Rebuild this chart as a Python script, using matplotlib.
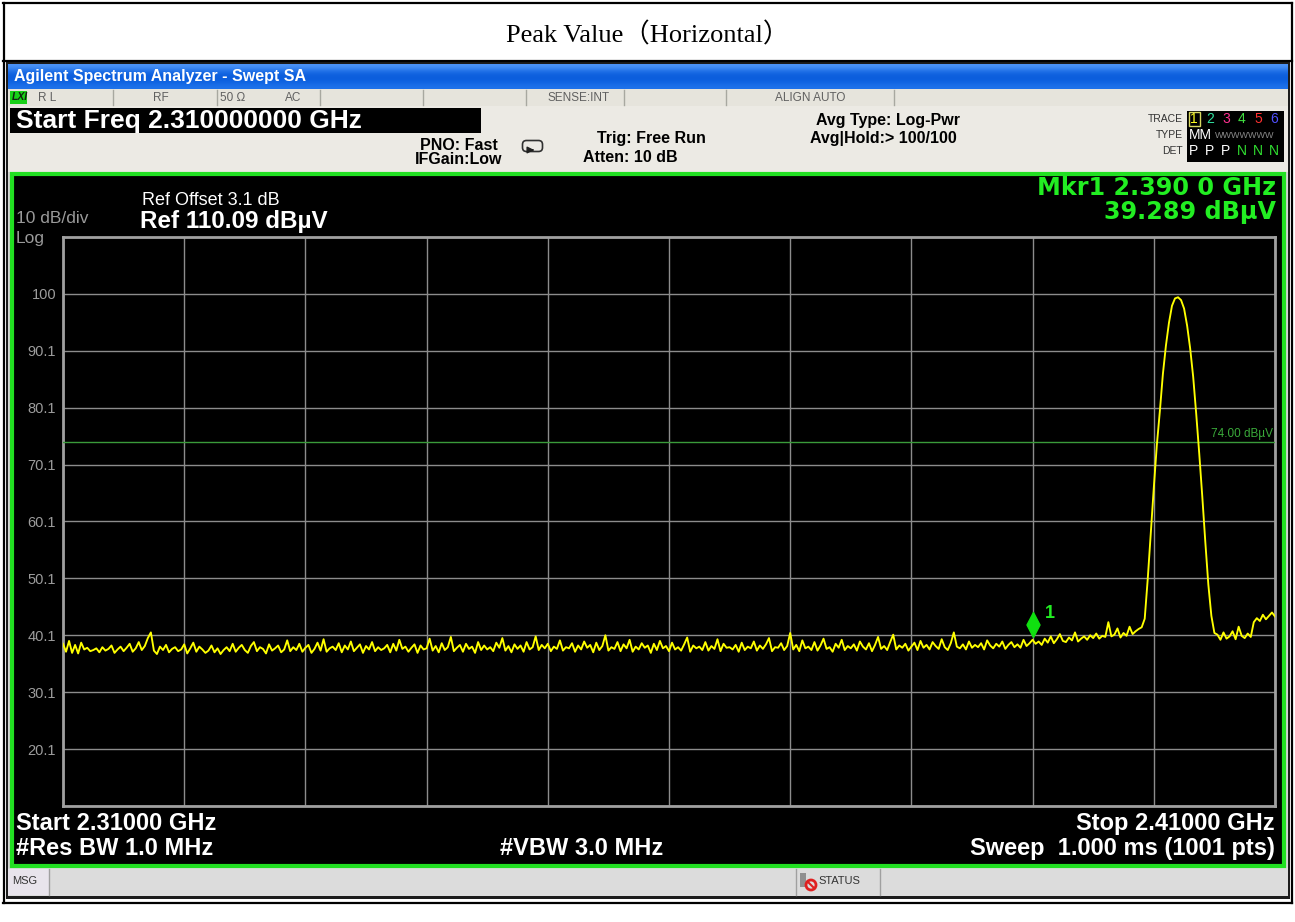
import numpy as np
import matplotlib.pyplot as plt
from matplotlib.patches import Rectangle, FancyBboxPatch, Circle
from matplotlib.path import Path

# sweep settings
start_mhz = 2310.0
stop_mhz = 2410.0
ref_level = 110.09
db_per_div = 10
limit_dbuv = 74.00
marker_mhz = 2390.0
marker_dbuv = 39.289

ytick_labels = ['100', '90.1', '80.1', '70.1', '60.1', '50.1', '40.1', '30.1', '20.1']

# trace 1, every 0.25 MHz (dBuV)
noise_floor = [
    38.6, 37.2, 39.1, 37.0, 38.4, 36.9, 38.8, 37.6, 37.9, 37.3, 37.5, 37.8, 37.1, 38.0, 37.4, 37.7, 38.3, 37.0, 37.6, 38.1,
    37.3, 37.9, 38.6, 37.2, 37.8, 38.9, 37.5, 38.2, 39.6, 40.6, 37.4, 36.8, 38.1, 37.5, 38.4, 37.1, 37.7, 38.0, 37.3, 37.6,
    38.5, 36.9, 37.8, 38.8, 37.2, 38.1, 37.6, 37.0, 37.4, 38.3, 37.1, 37.8, 36.8, 37.5, 38.0, 37.3, 38.6, 37.2, 37.9, 38.4,
    37.5, 37.0, 38.2, 38.9, 37.3, 38.0, 37.7, 36.9, 38.5, 37.4, 37.8, 38.3, 37.1, 37.6, 39.2, 37.3, 38.0, 37.5, 38.6, 37.2,
    37.9, 38.4, 37.0, 37.7, 38.8, 37.4, 39.4, 37.2, 37.8, 38.1, 37.5, 38.7, 37.1, 38.3, 37.6, 39.0, 37.3, 37.9, 38.5, 37.0,
    38.2, 37.6, 38.9, 37.3, 38.0, 37.5, 37.8, 38.4, 37.1, 38.6, 37.4, 39.3, 37.7, 38.1, 37.2, 37.9, 38.5, 37.0, 38.3, 37.6,
    37.8, 39.5, 37.4, 38.2, 37.1, 38.7, 37.5, 38.0, 39.8, 37.3, 37.9, 38.4, 37.2, 38.6, 37.7, 38.1, 37.0, 38.9, 37.5, 38.3,
    37.6, 38.0, 37.3, 38.8, 37.9, 39.6, 37.4, 38.2, 37.1, 38.5, 37.7, 38.3, 37.2, 38.9, 37.6, 38.0, 39.9, 37.5, 38.4, 37.8,
    38.6, 37.3, 38.1, 37.7, 39.2, 37.4, 38.0, 37.8, 38.7, 37.2, 38.3, 37.6, 39.0, 37.9, 38.4, 37.1, 38.8, 37.5, 38.2, 40.1,
    37.4, 38.0, 37.7, 38.9, 37.3, 38.5, 37.8, 39.3, 37.2, 38.1, 37.6, 38.7, 37.9, 38.3, 37.0, 38.6, 37.5, 39.1, 37.8, 38.2,
    37.3, 38.8, 37.6, 38.0, 37.4, 38.5, 39.7, 37.2, 38.3, 37.8, 38.1, 37.5, 38.9, 37.4, 38.2, 37.7, 39.4, 37.3, 38.6, 37.9,
    38.0, 37.6, 38.4, 37.2, 38.8, 37.5, 38.1, 37.8, 39.0, 37.4, 38.3, 37.7, 38.5, 39.6, 37.3, 38.0, 37.9, 38.7, 37.5, 38.2,
    40.5, 37.6, 38.4, 37.3, 39.2, 37.8, 38.1, 37.5, 38.9, 37.4, 38.3, 39.5, 37.7, 38.0, 37.2, 38.6, 37.9, 39.3, 37.5, 38.2,
    37.8, 38.5, 37.4, 39.0, 38.1, 37.6, 38.7, 37.3, 38.4, 39.8, 37.7, 38.2, 37.5, 38.9, 40.2, 37.6, 38.3, 37.9, 38.6, 37.4,
    38.1, 38.8, 37.5, 39.1, 37.9, 38.4, 37.6, 38.9, 38.2, 37.7, 39.4, 38.0, 37.5, 38.7, 40.6, 38.1, 37.8, 38.5, 37.6, 39.0,
    37.9, 38.4, 38.0, 38.7, 37.6, 39.2, 38.3, 37.8, 38.6, 38.1, 39.0, 37.7, 38.4, 38.9, 38.0, 38.5, 37.9, 39.3, 38.2, 38.7,
]
approach = [
    39.3,
    38.6, 39.0, 38.4, 39.5, 38.8, 39.9, 38.7, 39.4, 40.3, 39.1, 38.9, 39.7, 39.2, 40.6, 39.0, 39.5, 39.9, 39.3, 40.1, 39.6,
    40.4, 39.5, 40.0, 39.8, 42.4, 39.9, 40.2, 41.3, 39.7, 40.5, 40.0, 41.6, 40.3, 40.8, 41.2, 41.5,
]
carrier = [
    43.0, 50.0, 58.0, 66.0, 73.5, 79.5, 86.0, 91.0, 95.0, 98.0, 99.3, 99.5,
    99.0, 97.5, 94.5, 90.5, 85.5, 79.0, 72.0, 64.5, 56.5, 49.0, 43.5, 40.5,
]
upper_edge = [
    40.2, 39.3, 40.6, 39.5, 39.9, 40.8, 39.4, 41.6, 40.0, 39.6, 40.4, 39.8,
    42.4, 43.1, 42.6, 43.7, 42.9, 43.5, 44.1, 43.4,
]

trace = noise_floor + approach + carrier + upper_edge
freq = np.linspace(start_mhz, stop_mhz, len(trace))

W, H = 1295, 922
fig = plt.figure(figsize=(W / 100, H / 100), dpi=100)
fig.patch.set_facecolor('white')

# full-figure axes in pixel units for the instrument screen
bg = fig.add_axes([0, 0, 1, 1])
bg.axis('off')

SANS = 'Liberation Sans'


def box(x0, y0, x1, y1, fc, ec='none', lw=0, z=1):
    bg.add_patch(Rectangle((x0, y0), x1 - x0, y1 - y0, facecolor=fc, edgecolor=ec, lw=lw, zorder=z))


def txt(x, y, s, size, color='black', weight='normal', ha='left', family=SANS, **kw):
    bg.text(x, y, s, fontsize=size, color=color, fontweight=weight, ha=ha, va='center',
            family=family, zorder=10, **kw)


# report table frame
for y in (3, 61.5, 903):
    bg.plot([3, 1292], [y, y], color='black', lw=1.6, zorder=2)
for x in (3.5, 1291.5):
    bg.plot([x, x], [3, 903], color='black', lw=1.6, zorder=2)
txt(648, 35, 'Peak Value\uff08Horizontal\uff09', 19, family=['Liberation Serif', 'Noto Sans CJK SC'], ha='center')

# window frame
box(6, 62.5, 1290, 899, '#1c1c1c')

# title bar gradient
grad = np.array([[0.30, 0.58, 0.97], [0.10, 0.42, 0.90], [0.04, 0.36, 0.86], [0.05, 0.38, 0.88], [0.12, 0.45, 0.92]])
bg.imshow(grad[:, None, :], extent=[8, 1288, 89, 64], aspect='auto', interpolation='bicubic', zorder=1)
txt(14, 77, 'Agilent Spectrum Analyzer - Swept SA', 11.5, 'white', 'bold')

# status bar
box(8, 89, 1288, 106, '#e6e4dc', z=1)
box(10, 91, 27, 104, '#18d018', z=2)
txt(12, 97.5, 'LXI', 7.5, '#102010', 'bold', style='italic')
for x in (113, 217, 320, 423, 526, 624, 726, 894):
    bg.plot([x, x], [90, 105], color='#a8a8a0', lw=1, zorder=3)
txt(38, 98, 'R L', 8.5, '#606060')
txt(153, 98, 'RF', 8.5, '#606060')
txt(220, 98, '50 \u03a9', 8.5, '#606060')
txt(285, 98, 'AC', 8.5, '#606060')
txt(548, 98, 'SENSE:INT', 8.5, '#606060')
txt(775, 98, 'ALIGN AUTO', 8.5, '#606060')

# settings panel
box(8, 106, 1288, 172, '#eceae4', z=1)
box(10, 108, 481, 133, 'black', z=2)
txt(16, 121, 'Start Freq 2.310000000 GHz', 19, 'white', 'bold')
txt(459, 145, 'PNO: Fast', 11.5, 'black', 'bold', ha='center')
txt(459, 159, 'IFGain:Low', 11.5, 'black', 'bold', ha='center')
bg.add_patch(FancyBboxPatch((524, 142), 17, 8, boxstyle='round,pad=1.5,rounding_size=4',
                            facecolor='none', edgecolor='#303030', lw=1.2, zorder=5))
bg.annotate('', xy=(537, 150), xytext=(529, 150),
            arrowprops=dict(arrowstyle='-|>', color='#202020', lw=1), zorder=6)
txt(597, 138, 'Trig: Free Run', 11.5, 'black', 'bold')
txt(583, 158, 'Atten: 10 dB', 11.5, 'black', 'bold')
txt(816, 121, 'Avg Type: Log-Pwr', 11.5, 'black', 'bold')
txt(810, 138, 'Avg|Hold:> 100/100', 11.5, 'black', 'bold')

# trace / detector block
box(1187, 111, 1284, 162, 'black', z=2)
txt(1183, 119, 'TRACE', 7.5, '#333333', ha='right')
txt(1183, 135, 'TYPE', 7.5, '#333333', ha='right')
txt(1183, 151, 'DET', 7.5, '#333333', ha='right')
trace_cols = ['#ffff20', '#30e0a0', '#ff3090', '#40e040', '#ff3030', '#5050ff']
for k, c in enumerate(trace_cols):
    txt(1194 + 16 * k, 119, str(k + 1), 10, c, ha='center')
bg.add_patch(Rectangle((1188.5, 112), 11, 14, facecolor='none', edgecolor='#d8d860', lw=1, zorder=11))
txt(1189, 135, 'MM', 10, 'white')
txt(1215, 135, 'WWWWWWW', 6.5, '#8a8a8a')
for k in range(6):
    txt(1194 + 16 * k, 151, 'P' if k < 3 else 'N', 10, 'white' if k < 3 else '#30e030', ha='center')

# display area
box(8, 172, 1288, 868, '#d4d4d4', z=1)
box(12, 174.5, 1283.5, 866, 'black', ec='#22e022', lw=3, z=2)

txt(142, 200, 'Ref Offset 3.1 dB', 13, 'white')
txt(140, 221, 'Ref 110.09 dB\u00b5V', 17.5, 'white', 'bold')
txt(16, 218, '10 dB/div', 12.5, '#9a9a9a')
txt(16, 238, 'Log', 12.5, '#9a9a9a')
txt(1276, 188, 'Mkr1 2.390 0 GHz', 17.2, '#22ee22', 'bold', ha='right', family='DejaVu Sans')
txt(1276, 212, '39.289 dB\u00b5V', 17.2, '#22ee22', 'bold', ha='right', family='DejaVu Sans')

txt(16, 823, 'Start 2.31000 GHz', 17, 'white', 'bold')
txt(16, 848, '#Res BW 1.0 MHz', 17, 'white', 'bold')
txt(500, 848, '#VBW 3.0 MHz', 17, 'white', 'bold')
txt(1275, 823, 'Stop 2.41000 GHz', 17, 'white', 'bold', ha='right')
txt(1275, 848, 'Sweep  1.000 ms (1001 pts)', 17, 'white', 'bold', ha='right')

# message bar
box(8, 868, 1288, 896, '#dcdcdc', z=1)
box(8, 869, 49, 895, '#e8e4ec', z=2)
bg.plot([49, 49], [869, 895], color='#a0a0a0', lw=1, zorder=3)
txt(12, 881, 'MSG', 8, '#333333')
for x in (796, 880):
    bg.plot([x, x], [869, 895], color='#a0a0a0', lw=1, zorder=3)
box(800, 873, 806, 887, '#909090', z=4)
bg.add_patch(Circle((811, 885), 5, facecolor='none', edgecolor='#e02020', lw=2, zorder=5))
bg.plot([807.5, 814.5], [881.5, 888.5], color='#e02020', lw=1.5, zorder=5)
txt(818, 881, 'STATUS', 8, '#333333')

bg.set_xlim(0, W)
bg.set_ylim(H, 0)

# graticule axes: 10 x 10 divisions
left, right, top, bottom = 63, 1275, 237, 806
ax = fig.add_axes([left / W, 1 - bottom / H, (right - left) / W, (bottom - top) / H])
ax.set_facecolor('black')
ax.set_xlim(start_mhz, stop_mhz)
ax.set_ylim(ref_level - 10 * db_per_div, ref_level)
ax.set_xticks(np.linspace(start_mhz, stop_mhz, 11))
ax.set_xticklabels([])
yt = [ref_level - db_per_div * k for k in range(11)]
ax.set_yticks(yt)
ax.set_yticklabels([''] + ytick_labels + [''])
ax.tick_params(length=0, pad=5, labelsize=10.5, labelcolor='#9c9c9c')
for lab in ax.get_yticklabels():
    lab.set_family(SANS)
ax.grid(True, color='#8c8c8c', lw=1)
for s in ax.spines.values():
    s.set_color('#a0a0a0')
    s.set_linewidth(2)

ax.axhline(limit_dbuv, color='#3a9a3a', lw=1, zorder=3)
ax.text(stop_mhz - 0.15, limit_dbuv + 0.4, '74.00 dB\u00b5V', color='#3aaa3a', fontsize=8.5,
        ha='right', va='bottom', family=SANS)

ax.plot(freq, trace, color='#ffff00', lw=1.35, zorder=4)

diamond = Path([(0, 0), (-0.6, 1.15), (0, 2.3), (0.6, 1.15), (0, 0)],
               [Path.MOVETO, Path.LINETO, Path.LINETO, Path.LINETO, Path.CLOSEPOLY])
ax.plot([marker_mhz], [marker_dbuv + 0.5], marker=diamond, markersize=36, color='#10e010',
        markeredgecolor='#10e010', linestyle='none', zorder=6, clip_on=False)
ax.annotate('1', (marker_mhz, marker_dbuv), xytext=(9, 16), textcoords='offset points',
            color='#22ee22', fontsize=13, fontweight='bold', family=SANS, zorder=7)

fig.savefig('out.png', dpi=100, facecolor='white')
